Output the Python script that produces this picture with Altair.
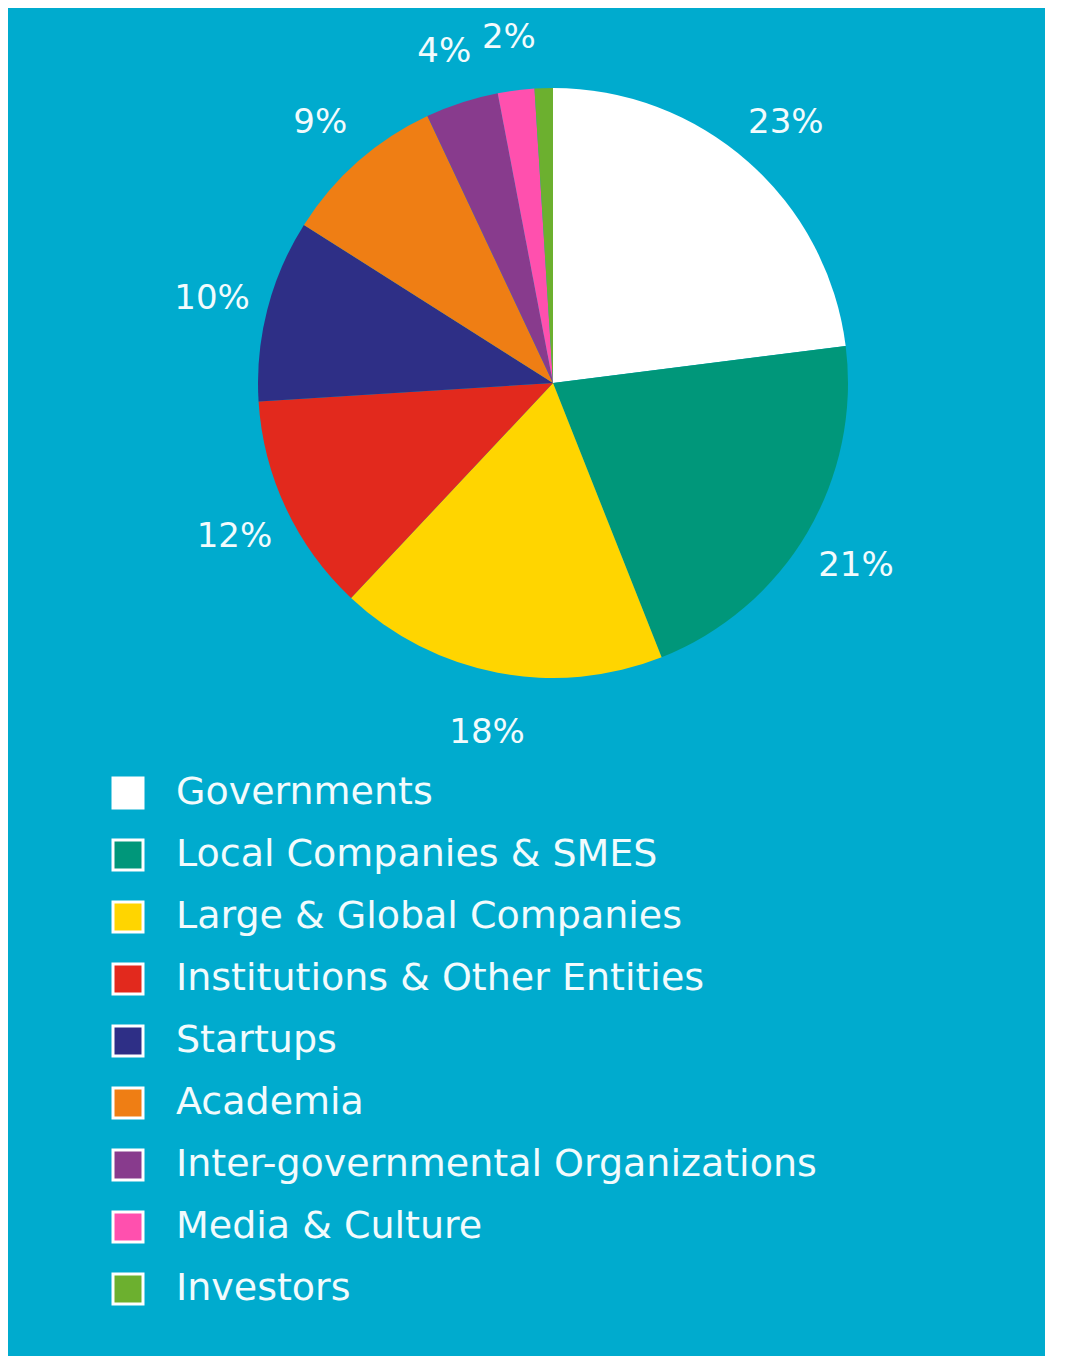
import altair as alt
import pandas as pd

categories = ["Governments", "Local Companies & SMES", "Large & Global Companies",
              "Institutions & Other Entities", "Startups", "Academia",
              "Inter-governmental Organizations", "Media & Culture", "Investors"]
values = [23, 21, 18, 12, 10, 9, 4, 2, 1]
labels = ["23%", "21%", "18%", "12%", "10%", "9%", "4%", "2%", ""]
colors = ["#FFFFFF", "#00977A", "#FFD500", "#E2291D", "#2E2F86", "#EF7E14",
          "#883B8D", "#FF50AE", "#6CB02F"]

df = pd.DataFrame({"category": categories, "value": values, "label": labels,
                   "order": list(range(len(categories)))})

W, H = 1037, 1348
CX, CY = 545, 375

base = alt.Chart(df).encode(
    theta=alt.Theta("value:Q", stack=True),
    order=alt.Order("order:Q"),
    x=alt.value(CX),
    y=alt.value(CY),
)

color = alt.Color(
    "category:N",
    sort=categories,
    scale=alt.Scale(domain=categories, range=colors),
    legend=alt.Legend(
        title=None,
        orient="none",
        legendX=101,
        legendY=766,
        symbolType="square",
        symbolSize=900,
        symbolStrokeColor="white",
        symbolStrokeWidth=3,
        symbolOpacity=1,
        labelFont="DejaVu Sans",
        labelFontSize=38,
        labelColor="#F2FBFD",
        labelOffset=29,
        labelLimit=900,
        rowPadding=20,
    ),
)

arcs = base.mark_arc(outerRadius=295, stroke=None).encode(color=color)

text = base.mark_text(radius=352, dy=4, font="DejaVu Sans", fontSize=34,
                      color="#F2FBFD").encode(text="label:N")

chart = alt.layer(arcs, text).properties(
    width=W, height=H, padding=0, background="#00ABCE",
    autosize=alt.AutoSizeParams(type="none"),
).configure_view(stroke=None)

chart.save("out.html", embed_options={"renderer": "svg", "actions": False})
